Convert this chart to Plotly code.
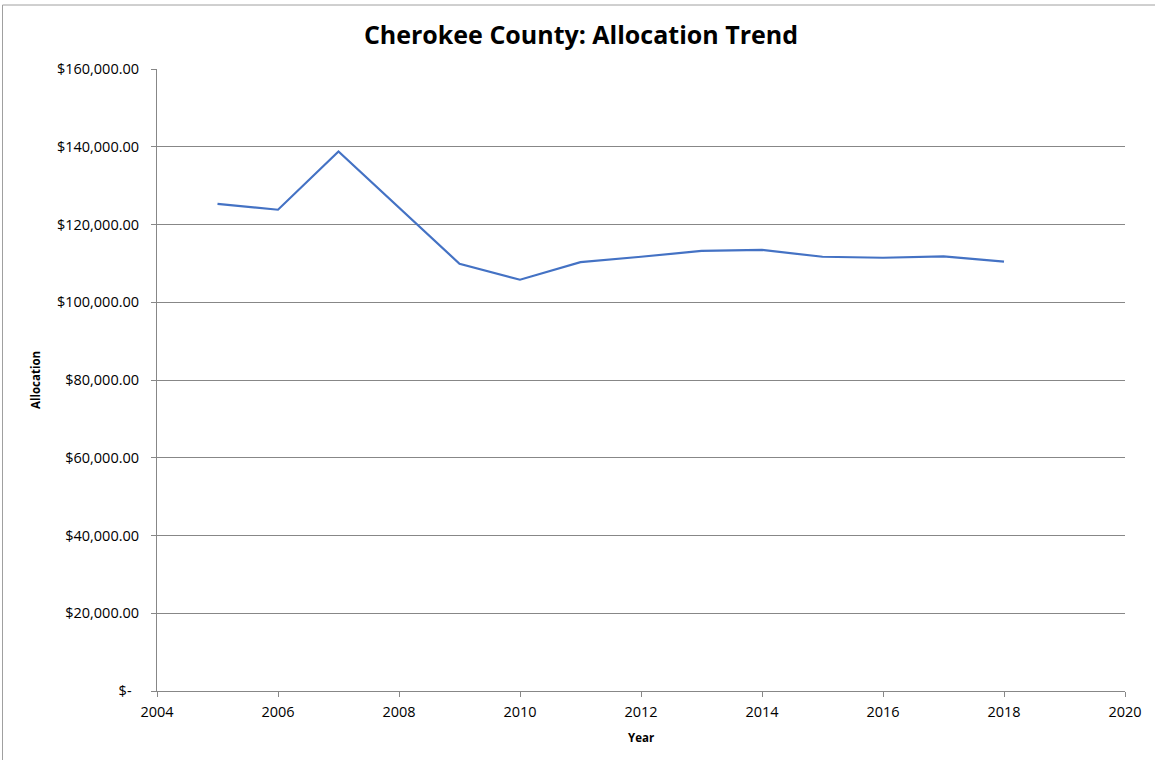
import plotly.graph_objects as go

years = [2005, 2006, 2007, 2008, 2009, 2010, 2011, 2012, 2013, 2014, 2015, 2016, 2017, 2018]
allocation = [125300, 123800, 138800, 124400, 109900, 105800, 110300, 111700,
              113200, 113450, 111700, 111450, 111800, 110450]

y_tickvals = [0, 20000, 40000, 60000, 80000, 100000, 120000, 140000, 160000]
y_ticktext = ["$-\u00a0\u00a0", "$20,000.00", "$40,000.00", "$60,000.00", "$80,000.00",
              "$100,000.00", "$120,000.00", "$140,000.00", "$160,000.00"]
x_tickvals = [2004, 2006, 2008, 2010, 2012, 2014, 2016, 2018, 2020]

FONT = "Open Sans"
GRID = "#878787"
L, T, PW, PH = 157, 69, 968, 622

fig = go.Figure()
fig.add_trace(go.Scatter(x=years, y=allocation, mode="lines",
                         line=dict(color="#4472C4", width=2.2),
                         hoverinfo="x+y", showlegend=False))

fig.update_layout(
    width=1155, height=760,
    margin=dict(l=L, r=1155 - L - PW, t=T, b=760 - T - PH),
    paper_bgcolor="white", plot_bgcolor="white",
    font=dict(family=FONT, color="#000000", size=14.5),
    title=dict(text="<b>Cherokee County: Allocation Trend</b>",
               x=0.503, xanchor="center", y=0.954, yanchor="middle",
               font=dict(family=FONT, size=25, color="#000000")),
    xaxis=dict(range=[2004, 2020], tickvals=x_tickvals,
               showgrid=False, zeroline=False,
               showline=True, linecolor=GRID, linewidth=1,
               ticks="outside", ticklen=5, tickcolor=GRID,
               ticklabelstandoff=3,
               tickfont=dict(family=FONT, size=14.5)),
    yaxis=dict(range=[0, 160000], tickvals=y_tickvals, ticktext=y_ticktext,
               showgrid=True, gridcolor=GRID, gridwidth=1, zeroline=False,
               showline=True, linecolor=GRID, linewidth=1,
               ticks="outside", ticklen=5, tickcolor=GRID,
               ticklabelstandoff=9,
               tickfont=dict(family=FONT, size=14.5)),
    annotations=[
        dict(text="<b>Allocation</b>", xref="paper", yref="paper",
             x=(35 - L) / PW, y=(T + PH - 380) / PH, xanchor="center", yanchor="middle",
             textangle=-90, showarrow=False, font=dict(family=FONT, size=11.5)),
        dict(text="<b>Year</b>", xref="paper", yref="paper",
             x=(641 - L) / PW, y=(T + PH - 737) / PH, xanchor="center", yanchor="middle",
             showarrow=False, font=dict(family=FONT, size=11.5)),
    ],
    shapes=[
        dict(type="line", xref="paper", yref="paper",
             x0=(2.5 - L) / PW, x1=(2.5 - L) / PW,
             y0=(T + PH - 5) / PH, y1=(T + PH - 790) / PH,
             line=dict(color="#a0a0a0", width=1)),
        dict(type="line", xref="paper", yref="paper",
             x0=(2.5 - L) / PW, x1=(1180 - L) / PW,
             y0=(T + PH - 5) / PH, y1=(T + PH - 5) / PH,
             line=dict(color="#a0a0a0", width=1)),
    ],
)

fig.write_html("out.html", config={"displayModeBar": False},
               post_script="document.body.style.margin='0';")
